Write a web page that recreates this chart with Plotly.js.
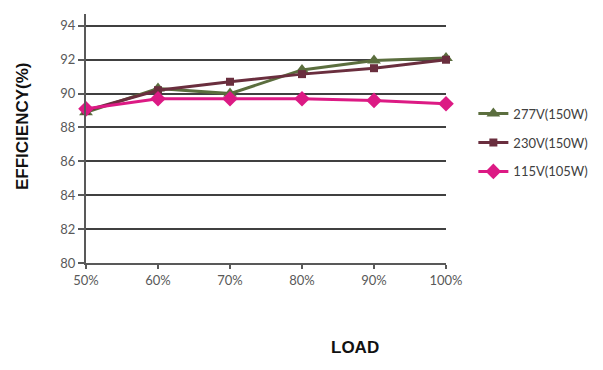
<!DOCTYPE html>
<html>
<head>
<meta charset="utf-8">
<script src="https://cdn.plot.ly/plotly-3.0.1.min.js"></script>
<style>html,body{margin:0;padding:0;background:#fff;}#chart{width:603px;height:370px;}</style>
</head>
<body>
<div id="chart"></div>
<script>
const loads = ["50%", "60%", "70%", "80%", "90%", "100%"];
const eff277 = [88.9, 90.3, 90.0, 91.4, 91.95, 92.1];
const eff230 = [89.0, 90.2, 90.7, 91.15, 91.5, 92.0];
const eff115 = [89.1, 89.7, 89.7, 89.7, 89.6, 89.4];
const names = ["277V(150W)", "230V(150W)", "115V(105W)"];
const yTicks = [80, 82, 84, 86, 88, 90, 92, 94];

const colors = ["#5b6e3e", "#6a2e3e", "#dc1a84"];
const symbols = ["triangle-up", "square", "diamond"];
const series = [eff277, eff230, eff115];

const traces = series.map((vals, i) => ({
  x: loads.map((_, k) => k),
  y: vals,
  name: names[i],
  legendgroup: "g" + i,
  type: "scatter",
  mode: "lines+markers",
  cliponaxis: false,
  line: {color: colors[i], width: 3},
  marker: {symbol: symbols[i], size: i === 0 ? 12 : (i === 1 ? 8 : 12), color: colors[i]}
}));

const layout = {
  width: 603, height: 370,
  margin: {l: 86, r: 157, t: 14, b: 107, autoexpand: false},
  paper_bgcolor: "#fff", plot_bgcolor: "#fff",
  font: {family: "Lato, 'Open Sans', sans-serif", size: 13, color: "#595959"},
  showlegend: true,
  legend: {
    x: 1.076, y: 0.66, xanchor: "left", yanchor: "top",
    font: {family: "Lato, sans-serif", size: 13, color: "#404040"},
    tracegroupgap: 9, itemwidth: 30, bgcolor: "rgba(0,0,0,0)"
  },
  xaxis: {
    type: "linear", range: [0, 5], tickmode: "array",
    tickvals: loads.map((_, k) => k), ticktext: loads,
    showgrid: false, zeroline: false,
    showline: true, linecolor: "#595959", linewidth: 2,
    ticks: "outside", ticklen: 4, tickwidth: 2, tickcolor: "#595959",
    tickfont: {family: "Lato, sans-serif", size: 13, color: "#595959"}
  },
  yaxis: {
    range: [80, 94.7], tickmode: "array", tickvals: yTicks,
    showgrid: true, gridcolor: "#404040", gridwidth: 2, zeroline: false,
    showline: true, linecolor: "#595959", linewidth: 2,
    ticks: "outside", ticklen: 6, tickwidth: 2, tickcolor: "#595959",
    tickfont: {family: "Lato, sans-serif", size: 13, color: "#595959"}
  },
  annotations: [
    {text: "<b>EFFICIENCY(%)</b>", xref: "paper", yref: "paper",
     x: (22 - 86) / 360, y: (370 - 107 - 126) / 249, xanchor: "center", yanchor: "middle",
     textangle: -90, showarrow: false,
     font: {family: "'Liberation Sans', Arial, sans-serif", size: 17, color: "#111"}},
    {text: "<b>LOAD</b>", xref: "paper", yref: "paper",
     x: (355 - 86) / 360, y: -(347 - 263) / 249, xanchor: "center", yanchor: "middle",
     showarrow: false,
     font: {family: "'Liberation Sans', Arial, sans-serif", size: 17, color: "#111"}}
  ]
};

Plotly.newPlot("chart", traces, layout, {displayModeBar: false, staticPlot: true});
</script>
</body>
</html>
